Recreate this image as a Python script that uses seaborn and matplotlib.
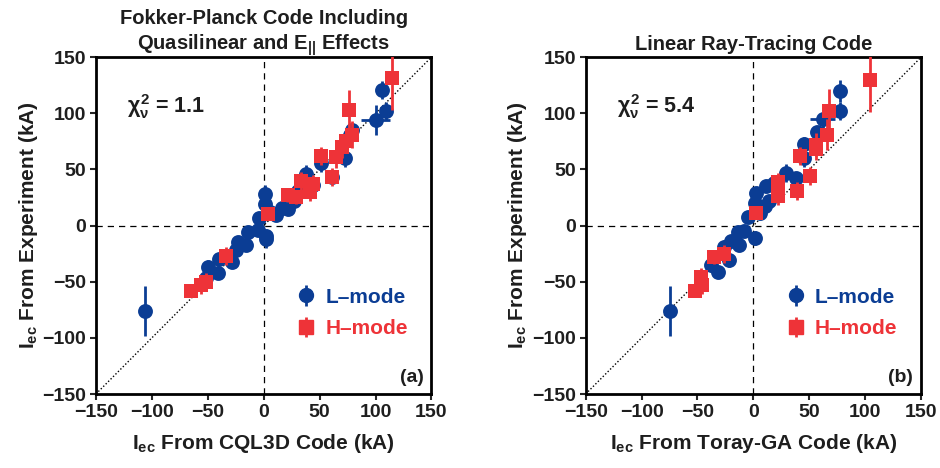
import numpy as np
import pandas as pd
import matplotlib
matplotlib.use("Agg")
import matplotlib.pyplot as plt
import seaborn as sns

# --- panel (a): CQL3D vs experiment ---
a_L_x = [-106, 106, 109, 100, 77, 79, 73, 51, 38, 61, 44, 31, 22, 16, 11, 1, 1, -4, 2, 2,
         -5, -14, -16, -23, -25, -28, -40, -41, -50, -52, 6, 27]
a_L_y = [-76, 121, 102, 94, 81, 85, 60, 56, 46, 43, 36, 31, 15, 16, 9, 28, 19, 7, -9, -12,
         -4, -6, -17, -15, -22, -32, -30, -42, -37, -47, 12, 22]
a_L_xerr = [0, 3, 4, 13, 4, 4, 4, 3, 4, 4, 3, 3, 3, 3, 3, 2, 2, 3, 2, 2,
            3, 3, 3, 3, 3, 3, 4, 4, 5, 4, 2, 3]
a_L_yerr = [22, 8, 8, 13, 8, 6, 8, 8, 8, 6, 6, 5, 5, 5, 4, 8, 6, 4, 6, 8,
            4, 5, 5, 6, 8, 6, 5, 6, 6, 5, 4, 5]

a_H_x = [115, 76, 79, 74, 70, 65, 51, 61, 44, 41, 33, 29, 22, 4, -34, -52, -56, -65]
a_H_y = [131, 103, 81, 75, 70, 61, 62, 43, 37, 30, 40, 25, 27, 10, -27, -50, -53, -58]
a_H_xerr = [3, 3, 3, 3, 3, 3, 3, 3, 3, 3, 3, 3, 3, 3, 3, 3, 3, 3]
a_H_yerr = [28, 18, 12, 10, 10, 10, 8, 8, 8, 8, 8, 6, 6, 5, 8, 8, 8, 5]

# --- panel (b): Toray-GA vs experiment ---
b_L_x = [-75, 77, 77, 62, 57, 45, 45, 38, 29, 18, 11, 10, 2, 1, -5, 1, -8, -14, -13,
         -20, -26, -22, -32, -38, 6, 14]
b_L_y = [-76, 120, 102, 95, 83, 73, 60, 42, 47, 38, 35, 17, 29, 20, 8, -11, -5, -6, -17,
         -14, -19, -31, -41, -35, 11, 22]
b_L_xerr = [0, 3, 4, 11, 3, 3, 3, 3, 3, 3, 2, 2, 2, 2, 2, 2, 2, 2, 2,
            3, 3, 3, 3, 4, 2, 2]
b_L_yerr = [22, 10, 8, 8, 6, 6, 8, 6, 8, 6, 5, 5, 5, 8, 4, 6, 4, 5, 5,
            5, 6, 6, 5, 6, 4, 5]

b_H_x = [104, 68, 66, 56, 56, 42, 51, 39, 22, 22, 2, -26, -35, -47, -46, -52]
b_H_y = [130, 102, 81, 72, 68, 62, 44, 31, 39, 26, 11, -25, -28, -46, -53, -58]
b_H_xerr = [3, 3, 3, 3, 3, 3, 3, 3, 3, 3, 3, 3, 3, 3, 3, 3]
b_H_yerr = [29, 20, 14, 10, 10, 8, 8, 8, 8, 8, 5, 8, 6, 8, 8, 6]

chi_text = [r"$\chi^2_\nu$ = 1.1", r"$\chi^2_\nu$ = 5.4"]
titles = ["Fokker-Planck Code Including\nQuasilinear and E$_{||}$ Effects",
          "Linear Ray-Tracing Code"]
xlabels = ["I$_{ec}$ From CQL3D Code (kA)",
           "I$_{ec}$ From Toray-GA Code (kA)"]
ylabel = "I$_{ec}$ From Experiment (kA)"
panel_tags = ["(a)", "(b)"]
ticks = [-150, -100, -50, 0, 50, 100, 150]

blue = "#0b3d94"
red = "#ee3338"
ink = "#1e1e1e"

sns.set_style("white")
plt.rcParams['font.family'] = ['Liberation Sans', 'DejaVu Sans']
plt.rcParams['font.weight'] = 'bold'
plt.rcParams['mathtext.fontset'] = 'custom'
plt.rcParams['mathtext.rm'] = 'Liberation Sans:bold'
plt.rcParams['mathtext.it'] = 'Liberation Sans:bold'
plt.rcParams['mathtext.bf'] = 'Liberation Sans:bold'
plt.rcParams['mathtext.sf'] = 'Liberation Sans:bold'
plt.rcParams['axes.unicode_minus'] = True

fig = plt.figure(figsize=(9.4, 4.68), dpi=100)
ax_a = fig.add_axes([0.102, 0.158, 0.357, 0.72])
ax_b = fig.add_axes([0.623, 0.158, 0.357, 0.72])

panels = [
    (ax_a, (a_L_x, a_L_y, a_L_xerr, a_L_yerr), (a_H_x, a_H_y, a_H_xerr, a_H_yerr)),
    (ax_b, (b_L_x, b_L_y, b_L_xerr, b_L_yerr), (b_H_x, b_H_y, b_H_xerr, b_H_yerr)),
]

for i, (ax, L, H) in enumerate(panels):
    ax.plot([-150, 150], [-150, 150], color="black", ls=(0, (1, 1.5)), lw=1.0, zorder=1)
    ax.axhline(0, color="black", ls=(0, (5, 4)), lw=0.9, zorder=1)
    ax.axvline(0, color="black", ls=(0, (5, 4)), lw=0.9, zorder=1)

    dL = pd.DataFrame({"x": L[0], "y": L[1], "xe": L[2], "ye": L[3]})
    dH = pd.DataFrame({"x": H[0], "y": H[1], "xe": H[2], "ye": H[3]})

    ax.errorbar(dL.x, dL.y, xerr=dL.xe, yerr=dL.ye, fmt="none", ecolor=blue,
                elinewidth=2, capsize=0, zorder=2)
    sns.scatterplot(data=dL, x="x", y="y", ax=ax, color=blue, marker="o", s=115,
                    edgecolor=blue, linewidth=0, zorder=3)
    ax.errorbar(dH.x, dH.y, xerr=dH.xe, yerr=dH.ye, fmt="none", ecolor=red,
                elinewidth=2, capsize=0, zorder=4)
    sns.scatterplot(data=dH, x="x", y="y", ax=ax, color=red, marker="s", s=105,
                    edgecolor=red, linewidth=0, zorder=5)

    # legend drawn with dummy error-bar handles
    hL = ax.errorbar([], [], yerr=[], fmt="o", color=blue, ms=10, elinewidth=2, label="L\u2013mode")
    hH = ax.errorbar([], [], yerr=[], fmt="s", color=red, ms=10, elinewidth=2, label="H\u2013mode")
    leg = ax.legend(handles=[hL, hH], loc="lower right", bbox_to_anchor=(0.985, 0.11),
                    frameon=False, fontsize=15, handlelength=0.8, handletextpad=0.5,
                    labelspacing=0.6)
    for t, c in zip(leg.get_texts(), [blue, red]):
        t.set_color(c)
        t.set_fontweight("bold")

    ax.text(-122, 100, chi_text[i], fontsize=15.5, fontweight="bold", color=ink,
            va="baseline", ha="left")
    ax.text(143, -143, panel_tags[i], fontsize=14, fontweight="bold", color=ink,
            ha="right", va="bottom")

    ax.set_xlim(-150, 150)
    ax.set_ylim(-150, 150)
    ax.set_xticks(ticks)
    ax.set_yticks(ticks)
    ax.tick_params(direction="out", length=4, width=1.5, labelsize=14, pad=3,
                   left=True, bottom=True, labelcolor=ink)
    for lab in ax.get_xticklabels() + ax.get_yticklabels():
        lab.set_fontweight("bold")
    for sp in ax.spines.values():
        sp.set_linewidth(2)
        sp.set_color("black")
    ax.set_xlabel(xlabels[i], fontsize=15, fontweight="bold", color=ink, labelpad=8)
    ax.set_ylabel(ylabel, fontsize=15, fontweight="bold", color=ink, labelpad=2)
    ax.set_title(titles[i], fontsize=14.5, fontweight="bold", color=ink, pad=5,
                 linespacing=1.3)

fig.savefig("out.png", dpi=100)
